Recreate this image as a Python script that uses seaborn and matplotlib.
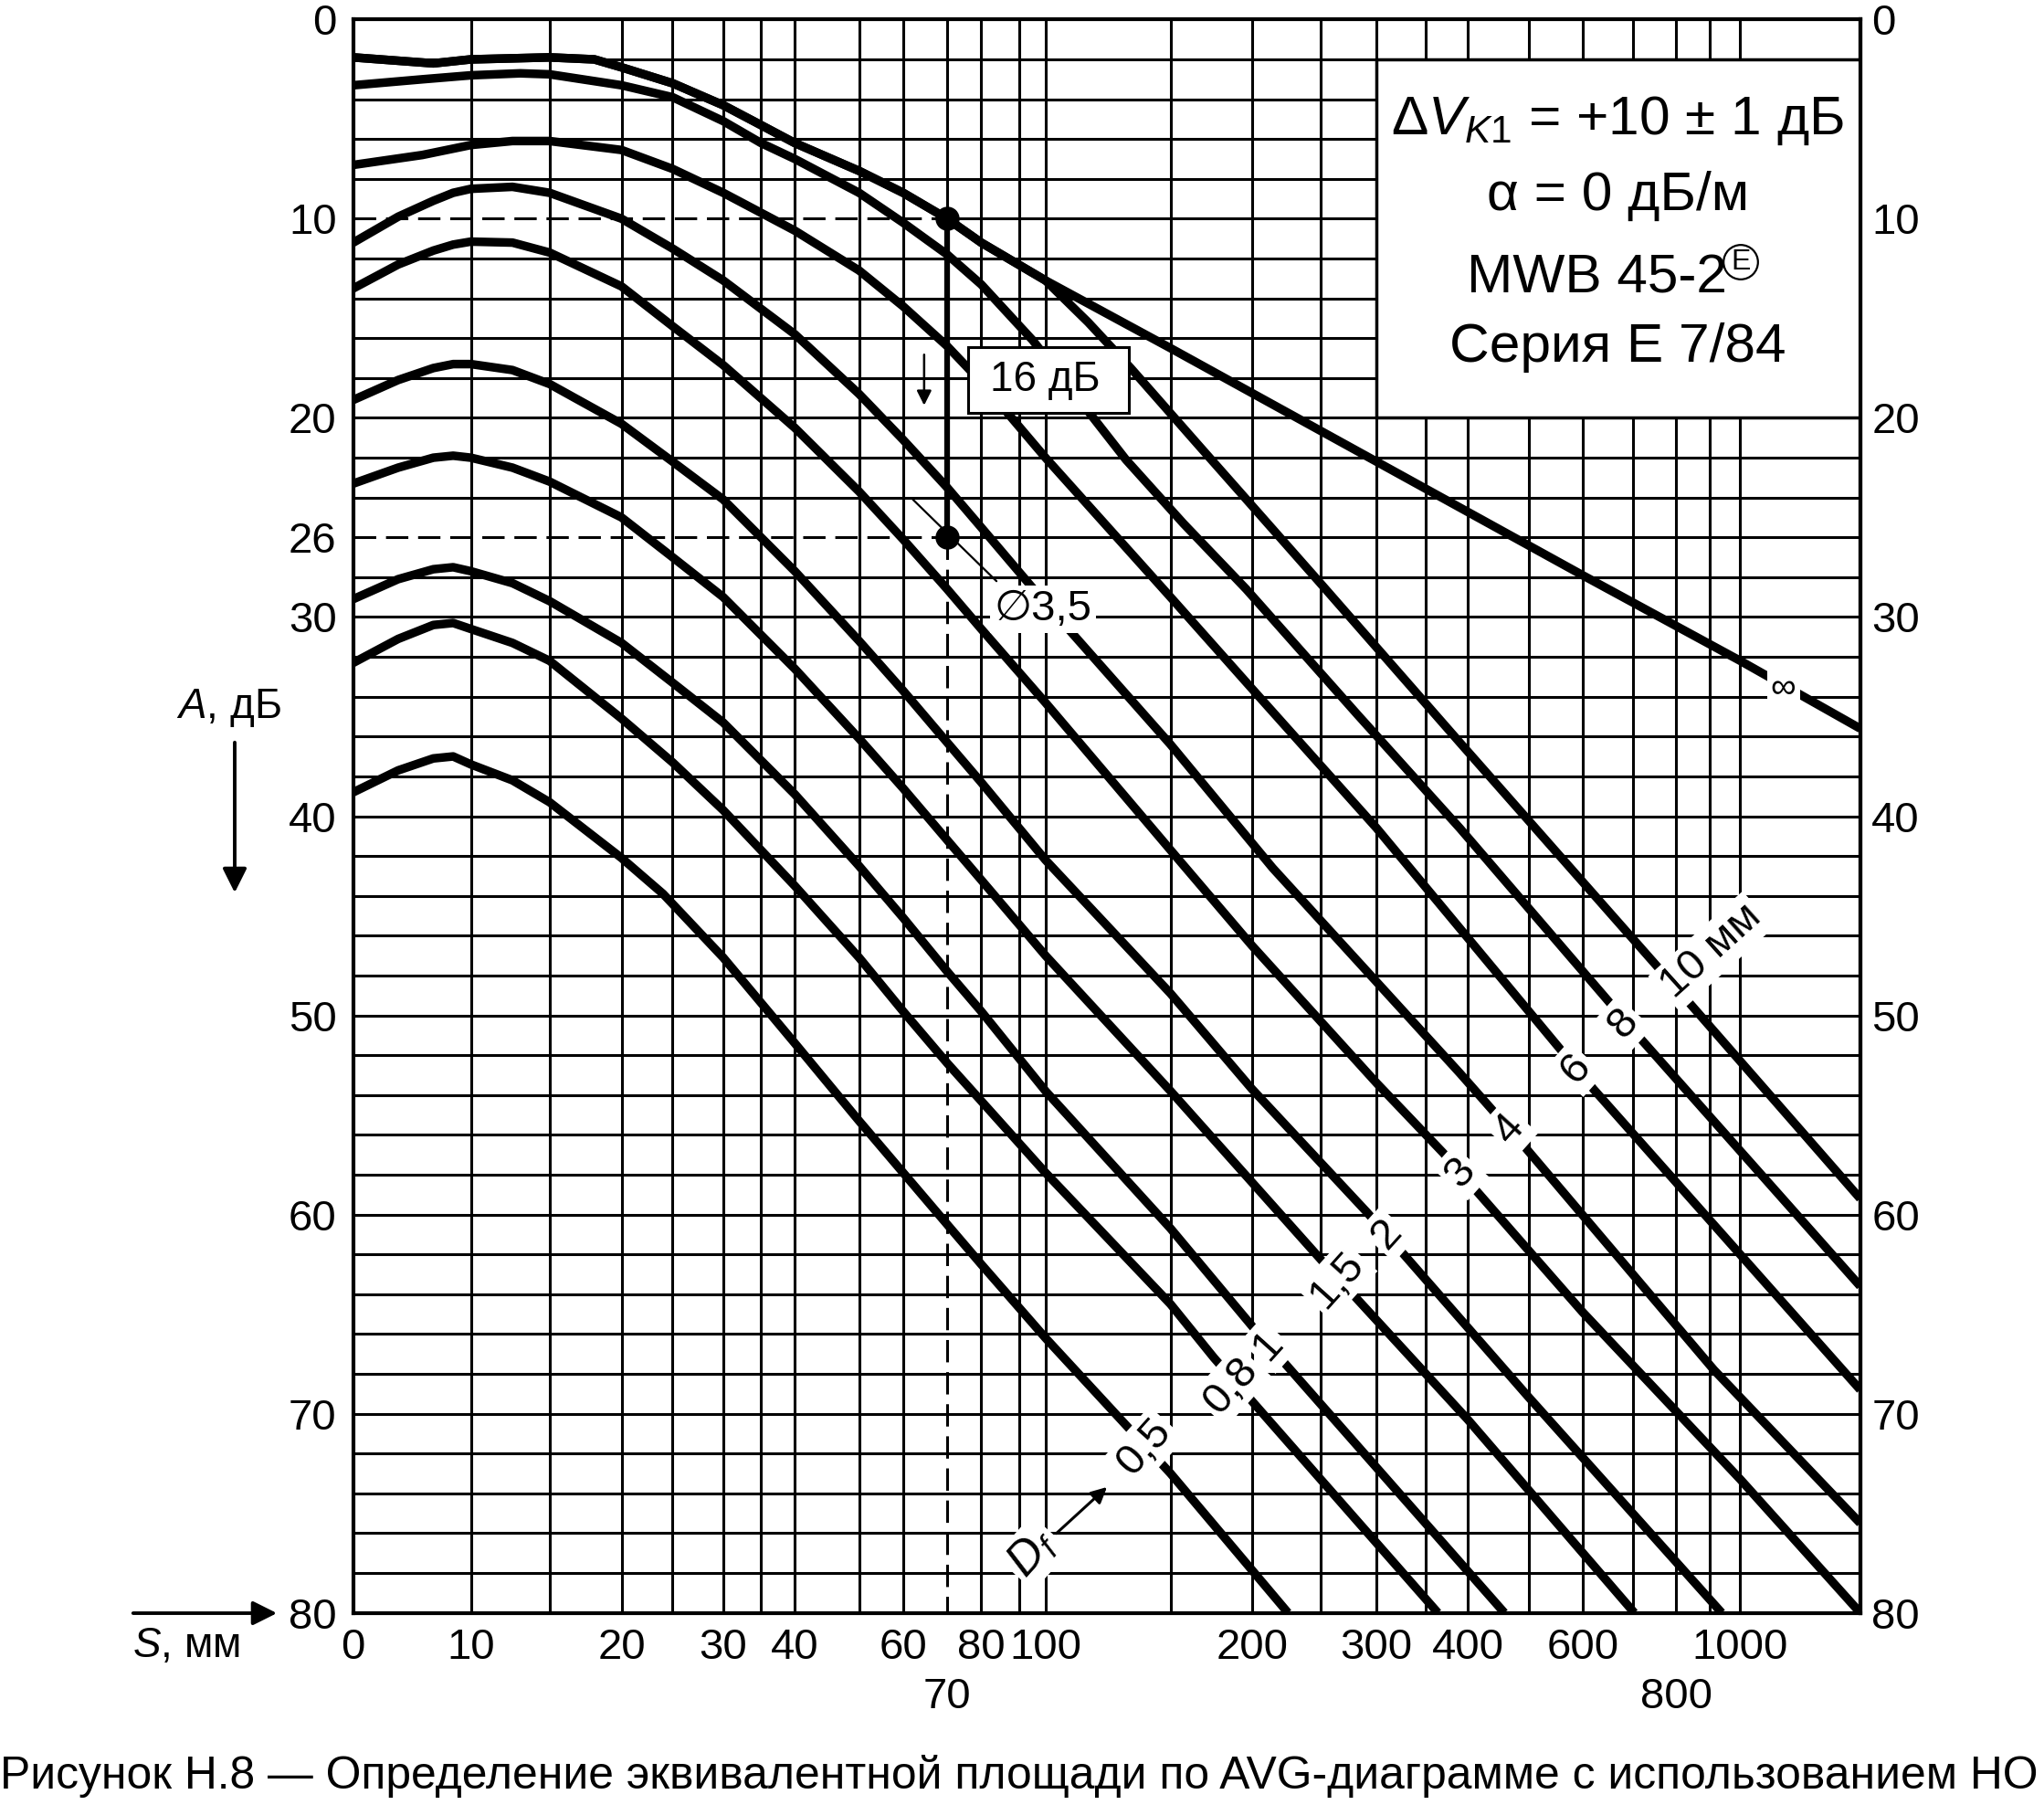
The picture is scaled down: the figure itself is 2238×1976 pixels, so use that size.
import numpy as np
import pandas as pd
import matplotlib
matplotlib.use('Agg')
import matplotlib.pyplot as plt
import seaborn as sns
from matplotlib.patches import Rectangle

S_INF = [0, 6, 10, 15, 18, 20, 25, 30, 35, 40, 50, 60, 70, 80, 100, 150, 300, 600, 1000, 1500]
A_INF = [1.9, 2.2, 2.0, 1.9, 2.0, 2.4, 3.2, 4.3, 5.3, 6.2, 7.6, 8.7, 10.0, 11.2, 13.1, 16.5, 22.2, 27.9, 32.2, 35.6]

S_10 = [0, 6, 10, 15, 18, 20, 25, 30, 35, 40, 50, 60, 70, 80, 100, 115, 132, 167, 195, 250, 390, 834, 1500]
A_10 = [1.9, 2.2, 2.0, 1.9, 2.0, 2.4, 3.2, 4.3, 5.3, 6.2, 7.6, 8.7, 10.0, 11.2, 13.1, 15.2, 17.5, 21.5, 24.0, 28.3, 36.3, 49.3, 59.2]

S_8 = [0, 5, 10, 13, 15, 20, 25, 30, 35, 40, 50, 60, 70, 80, 95, 130, 157, 196, 282, 390, 717, 1500]
A_8 = [3.3, 3.0, 2.8, 2.7, 2.75, 3.3, 3.9, 5.1, 6.2, 7.0, 8.7, 10.2, 11.8, 13.3, 16.1, 22.1, 25.3, 28.6, 34.9, 40.6, 51.2, 63.6]

S_6 = [0, 5, 10, 12.5, 15, 20, 25, 30, 40, 50, 60, 70, 80, 100, 150, 200, 300, 620, 1500]
A_6 = [7.3, 6.8, 6.3, 6.1, 6.1, 6.55, 7.5, 8.7, 10.6, 12.6, 14.4, 16.4, 18.2, 22.0, 29.0, 33.6, 40.6, 53.7, 68.8]

S_4 = [0, 3, 6, 8, 10, 12.5, 15, 20, 25, 30, 40, 50, 60, 70, 80, 100, 150, 214, 390, 492, 913, 1500]
A_4 = [11.2, 9.9, 9.1, 8.7, 8.5, 8.4, 8.7, 10.0, 11.5, 13.1, 15.8, 18.8, 21.1, 23.5, 25.5, 29.3, 36.4, 42.6, 52.9, 56.6, 67.8, 75.5]

S_3 = [0, 3, 6, 8, 10, 12.5, 15, 20, 25, 30, 40, 50, 60, 70, 80, 100, 150, 200, 300, 370, 600, 1000, 1500]
A_3 = [13.5, 12.3, 11.6, 11.3, 11.15, 11.2, 11.7, 13.4, 15.4, 17.35, 20.5, 23.7, 26.1, 28.6, 30.6, 34.3, 41.7, 46.5, 53.4, 56.9, 64.9, 73.3, 80.0]

S_2 = [0, 3, 6, 8, 10, 12.5, 15, 20, 25, 30, 40, 50, 60, 70, 80, 100, 150, 200, 291, 500, 938]
A_2 = [19.1, 18.1, 17.5, 17.3, 17.3, 17.6, 18.3, 20.3, 22.2, 24.1, 27.7, 31.2, 33.7, 36.3, 38.3, 42.2, 48.9, 53.7, 59.9, 69.2, 80.0]

S_15 = [0, 3, 6, 8, 10, 12.5, 15, 20, 25, 30, 40, 50, 60, 70, 80, 100, 150, 251, 400, 702]
A_15 = [23.3, 22.5, 22.0, 21.9, 22.0, 22.5, 23.2, 25.0, 27.0, 29.0, 32.6, 36.1, 38.6, 41.2, 43.2, 47.0, 53.8, 62.3, 70.3, 80.0]

S_1 = [0, 3, 6, 8, 10, 12.5, 15, 20, 25, 30, 40, 50, 60, 70, 80, 100, 150, 200, 457]
A_1 = [29.1, 28.1, 27.6, 27.5, 27.7, 28.3, 29.2, 31.3, 33.3, 35.3, 38.9, 42.5, 45.1, 47.8, 49.8, 53.8, 60.7, 65.6, 80.0]

S_08 = [0, 3, 6, 8, 10, 12.5, 15, 20, 25, 30, 40, 50, 60, 70, 80, 100, 150, 175, 364]
A_08 = [32.3, 31.1, 30.4, 30.3, 30.6, 31.3, 32.2, 35.1, 37.3, 39.7, 43.5, 47.1, 49.8, 52.4, 54.3, 57.9, 64.5, 67.2, 80.0]

S_05 = [0, 3, 6, 8, 10, 12.5, 15, 20, 24, 30, 40, 50, 60, 70, 80, 100, 150, 225]
A_05 = [38.8, 37.7, 37.1, 37.0, 37.4, 38.2, 39.3, 42.1, 43.9, 47.1, 51.4, 55.3, 57.9, 60.5, 62.5, 66.2, 73.0, 80.0]

CURVES = {
    'inf': (S_INF, A_INF), '10': (S_10, A_10), '8': (S_8, A_8), '6': (S_6, A_6),
    '4': (S_4, A_4), '3': (S_3, A_3), '2': (S_2, A_2), '1.5': (S_15, A_15),
    '1': (S_1, A_1), '0.8': (S_08, A_08), '0.5': (S_05, A_05),
}

# подписи осей
X_TICKS = [0, 10, 20, 30, 40, 60, 80, 100, 200, 300, 400, 600, 1000]
X_TICKS_LOW = [70, 800]
Y_TICKS_LEFT = [0, 10, 20, 26, 30, 40, 50, 60, 70, 80]
Y_TICKS_RIGHT = [0, 10, 20, 30, 40, 50, 60, 70, 80]
GRID_S = [10, 15, 20, 25, 30, 35, 40, 50, 60, 80, 90, 100, 150, 200, 250, 300,
          350, 400, 500, 600, 700, 800, 900, 1000]

# ---- нелинейная шкала S (положение линий сетки на исходном рисунке) ----
SCALE_S = np.array([0, 10, 15, 20, 25, 30, 35, 40, 50, 60, 70, 80, 90, 100, 150,
                    200, 300, 400, 500, 600, 700, 800, 900, 1000, 1500], dtype=float)
SCALE_X = np.array([271, 361.2, 421.6, 476.8, 516, 554.8, 583.8, 609.7, 659, 692.8,
                    726.6, 752.7, 781.8, 802, 897.9, 960.4, 1056, 1126, 1173, 1214,
                    1253, 1285.8, 1311.5, 1335, 1427])
U_S = np.log10(SCALE_S + 9.5)


def fwd(s):
    s = np.asarray(s, dtype=float)
    return np.interp(np.log10(np.clip(s, 0, None) + 9.5), U_S, SCALE_X)


def inv(x):
    x = np.asarray(x, dtype=float)
    return 10 ** np.interp(x, SCALE_X, U_S) - 9.5


sns.set_theme(style='white')
plt.rcParams['font.family'] = ['Liberation Sans', 'DejaVu Sans']
plt.rcParams['mathtext.fontset'] = 'custom'
plt.rcParams['mathtext.rm'] = 'Liberation Sans'
plt.rcParams['mathtext.it'] = 'Liberation Sans:italic'
plt.rcParams['text.color'] = 'black'

W, H = 2238, 1976
fig = plt.figure(figsize=(W / 100, H / 100), dpi=100)
ax = fig.add_axes([386.8 / W, 1 - 1765.6 / H, (2036.8 - 386.8) / W, (1765.6 - 21.4) / H])
ax.set_xscale('function', functions=(fwd, inv))
ax.set_xlim(0, 1500)
ax.set_ylim(80, 0)

# сетка
glw = 2.2
ax.vlines(GRID_S, 0, 80, colors='black', lw=glw, zorder=1)
grid_a = [a for a in range(2, 80, 2) if a not in (10, 26)]
ax.hlines(grid_a, 0, 1500, colors='black', lw=glw, zorder=1)
ax.hlines([10, 26], 70, 1500, colors='black', lw=glw, zorder=1)
ax.hlines([10, 26], 0, 70, colors='black', lw=glw, linestyles=(0, (8, 3.5)), zorder=1)
ax.vlines(70, 0, 10, colors='black', lw=glw, zorder=1)
ax.vlines(70, 26, 80, colors='black', lw=glw, linestyles=(0, (8, 3.5)), zorder=1)

# рамка с параметрами
ax.add_patch(Rectangle((300, 2), 1200, 18, facecolor='white', edgecolor='black',
                       lw=2.5, zorder=2))

# кривые AVG
rows = []
for name, (s, a) in CURVES.items():
    for si, ai in zip(s, a):
        rows.append({'curve': name, 'S': si, 'A': ai})
df = pd.DataFrame(rows)
sns.lineplot(data=df, x='S', y='A', hue='curve', estimator=None, sort=False,
             palette={k: 'black' for k in CURVES}, legend=False, lw=6.8,
             solid_capstyle='butt', solid_joinstyle='round', ax=ax, zorder=3)
ax.set_xlabel('')
ax.set_ylabel('')

# пример определения: 10 дБ -> 26 дБ при S = 70 мм
ax.vlines(70, 10, 26, colors='black', lw=4.5, zorder=4)
ax.plot([70, 70], [10, 26], 'o', color='black', ms=18, zorder=5)
ax.plot([62.1, 83.9], [24.1, 28.2], color='black', lw=1.6, zorder=4)
ax.add_patch(Rectangle((75.9, 16.43), 131.2 - 75.9, 19.73 - 16.43, facecolor='white',
                       edgecolor='black', lw=2.2, zorder=5))
ax.text(100, 18.1, '16 дБ', fontsize=33, ha='center', va='center', zorder=6)
ax.annotate('', xy=(64.6, 19.5), xytext=(64.6, 16.7),
            arrowprops=dict(arrowstyle='-|>', lw=1.8, color='black', mutation_scale=24),
            zorder=6)

lbl = dict(fontsize=34, ha='center', va='center', zorder=6, rotation_mode='anchor',
           bbox=dict(facecolor='white', edgecolor='none', pad=3))
ax.text(99, 29.6, '∅3,5', **lbl)
ax.text(1157, 33.6, '∞', **{**lbl, 'fontsize': 28})
ax.text(905, 46.8, '10 мм', rotation=42, **lbl)
for txt, s, a in [('8', 680, 50.4), ('6', 587, 52.7), ('4', 466, 55.7), ('3', 391, 57.9),
                  ('2', 310, 61.0), ('1,5', 264, 63.3), ('1', 211, 66.6),
                  ('0,8', 186, 68.6), ('0,5', 138, 71.7)]:
    ax.text(s, a, txt, rotation=48, **lbl)
ax.text(95, 77.0, r'$D_f$', rotation=48, **{**lbl, 'fontsize': 37})
ax.annotate('', xy=(123, 73.6), xytext=(103, 76.1),
            arrowprops=dict(arrowstyle='-|>', lw=2.2, color='black', mutation_scale=26),
            zorder=6)

# оси
ax.set_xticks(X_TICKS)
ax.set_xticklabels([str(v) for v in X_TICKS])
ax.set_xticks(X_TICKS_LOW, minor=True)
ax.set_xticklabels([str(v) for v in X_TICKS_LOW], minor=True)
ax.tick_params(axis='x', which='major', length=0, pad=12, labelsize=34, colors='black')
ax.tick_params(axis='x', which='minor', length=44, width=2.2, pad=7, labelsize=34,
               direction='out', colors='black')
ax.set_yticks(Y_TICKS_LEFT)
ax.set_yticklabels([str(v) for v in Y_TICKS_LEFT])
ax.tick_params(axis='y', which='both', length=0, pad=13, labelsize=34, colors='black')
sec = ax.secondary_yaxis('right')
sec.set_yticks(Y_TICKS_RIGHT)
sec.set_yticklabels([str(v) for v in Y_TICKS_RIGHT])
sec.tick_params(length=0, pad=9, labelsize=34, colors='black')
sec.spines['right'].set_linewidth(3)
sec.spines['right'].set_color('black')
for sp in ax.spines.values():
    sp.set_linewidth(3)
    sp.set_color('black')

# подписи вне поля
fig.text(250 / W, 1 - 775 / H, r'$A$, дБ', fontsize=33, ha='center', va='center')
ax.annotate('', xy=(257 / W, 1 - 980 / H), xytext=(257 / W, 1 - 810 / H),
            xycoords='figure fraction', textcoords='figure fraction', annotation_clip=False,
            arrowprops=dict(arrowstyle='-|>', lw=2.8, color='black', mutation_scale=40))
fig.text(204 / W, 1 - 1802 / H, r'$S$, мм', fontsize=33, ha='center', va='center')
ax.annotate('', xy=(306 / W, 1 - 1766 / H), xytext=(143 / W, 1 - 1766 / H),
            xycoords='figure fraction', textcoords='figure fraction', annotation_clip=False,
            arrowprops=dict(arrowstyle='-|>', lw=2.8, color='black', mutation_scale=40))

# текст в рамке
fig.text(0.7915, 1 - 132 / H, r'$\Delta V_{K\mathrm{1}}$ = +10 ± 1 дБ', fontsize=43.5,
         ha='center', va='center', zorder=7)
fig.text(0.7915, 1 - 214 / H, 'α = 0 дБ/м', fontsize=43.5, ha='center', va='center', zorder=7)
fig.text(1748 / W, 1 - 305 / H, 'MWB 45-2', fontsize=43.5, ha='center', va='center', zorder=7)
fig.text(1906 / W, 1 - 287 / H, 'E', fontsize=23, ha='center', va='center', zorder=7,
         bbox=dict(boxstyle='circle,pad=0.12', facecolor='none', edgecolor='black', lw=1.6))
fig.text(0.7915, 1 - 380 / H, 'Серия Е 7/84', fontsize=43.5, ha='center', va='center', zorder=7)

fig.text(0.4985, 1 - 1944 / H,
         'Рисунок Н.8 — Определение эквивалентной площади по AVG-диаграмме с использованием НО',
         fontsize=35.8, ha='center', va='center')

fig.savefig('out.png', dpi=100, facecolor='white')
